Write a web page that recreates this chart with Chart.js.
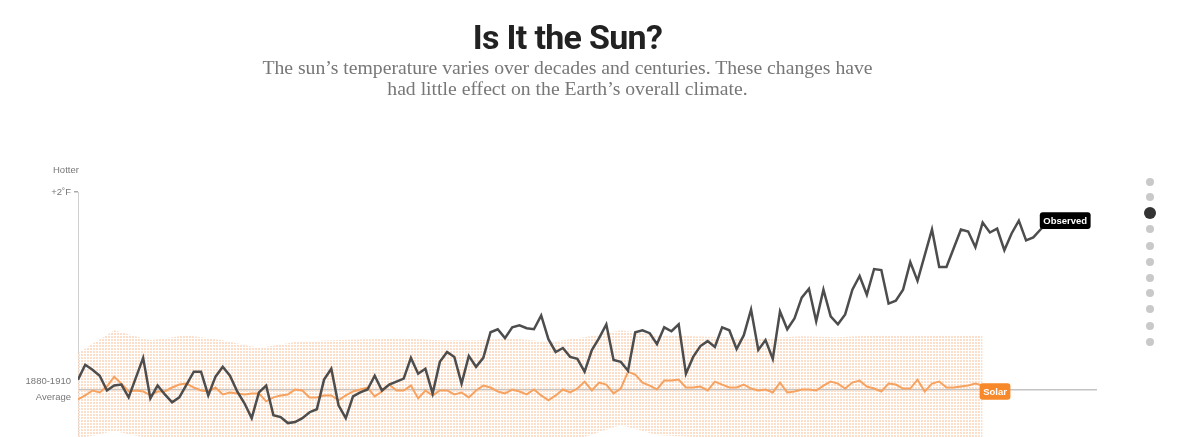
<!DOCTYPE html>
<html lang="en">
<head>
<meta charset="UTF-8">
<title>Is It the Sun?</title>
<script src="https://cdn.jsdelivr.net/npm/chart.js"></script>
<style>
    body{
        margin: 0;
        background: #fff;
        width: 1200px;
        height: 437px;
        overflow: hidden;
        position: relative;
        font-family: 'Liberation Sans', Arial, sans-serif;
    }
    .grafico{
        position: absolute;
        left: 0;
        top: 0;
        width: 1200px;
        height: 437px;
    }
    .titulo{
        position: absolute;
        left: 0;
        width: 1135px;
        top: 17px;
        text-align: center;
        font-family: Roboto, 'Liberation Sans', sans-serif;
        font-weight: 700;
        font-size: 34px;
        line-height: 40px;
        color: #222;
        letter-spacing: -0.7px;
    }
    .subtitulo{
        position: absolute;
        left: 0;
        width: 1135px;
        top: 57px;
        text-align: center;
        font-family: 'Liberation Serif', serif;
        font-size: 19.7px;
        line-height: 21px;
        color: #777;
    }
    .hotter{
        position: absolute;
        left: 53px;
        top: 164px;
        font-size: 9.5px;
        color: #777;
    }
    .ponto{
        position: absolute;
        left: 1146px;
        width: 8px;
        height: 8px;
        border-radius: 50%;
        background: #c9c9c9;
    }
    .ponto.ativo{
        left: 1144px;
        width: 12px;
        height: 12px;
        background: #333;
    }
</style>
</head>
<body>
    <div class="grafico"><canvas id="myChart"></canvas></div>
    <div class="titulo">Is It the Sun?</div>
    <div class="subtitulo">The sun’s temperature varies over decades and centuries. These changes have<br>had little effect on the Earth’s overall climate.</div>
    <div class="hotter">Hotter</div>
    <div id="pontos"></div>

<script>
    // anos e valores (graus F acima da media 1880-1910)
    var anoInicial = 1880;
    var observado = [
        0.10, 0.25, 0.20, 0.14, -0.01, 0.04, 0.05, -0.08, 0.12, 0.32,
        -0.09, 0.04, -0.05, -0.13, -0.08, 0.05, 0.18, 0.18, -0.06, 0.13,
        0.23, 0.14, -0.02, -0.14, -0.29, -0.03, 0.04, -0.26, -0.28, -0.34,
        -0.33, -0.29, -0.23, -0.20, 0.10, 0.21, -0.16, -0.29, -0.07, -0.03,
        0.00, 0.14, -0.01, 0.05, 0.08, 0.11, 0.32, 0.16, 0.21, -0.04,
        0.28, 0.38, 0.33, 0.06, 0.34, 0.23, 0.32, 0.58, 0.61, 0.52,
        0.63, 0.65, 0.62, 0.61, 0.75, 0.51, 0.38, 0.42, 0.33, 0.31,
        0.18, 0.40, 0.52, 0.66, 0.30, 0.28, 0.19, 0.58, 0.60, 0.57,
        0.46, 0.63, 0.59, 0.66, 0.16, 0.33, 0.44, 0.49, 0.43, 0.63,
        0.60, 0.41, 0.55, 0.81, 0.40, 0.50, 0.31, 0.79, 0.61, 0.72,
        0.93, 1.02, 0.69, 1.01, 0.74, 0.66, 0.76, 1.01, 1.15, 0.96,
        1.22, 1.21, 0.87, 0.90, 1.01, 1.29, 1.10, 1.36, 1.62, 1.24,
        1.24, 1.43, 1.62, 1.60, 1.44, 1.69, 1.59, 1.63, 1.41, 1.58,
        1.71, 1.51, 1.54, 1.62, 1.70
    ];
    var solar = [
        -0.10, -0.06, -0.01, -0.03, 0.03, 0.13, 0.06, -0.02, -0.01, -0.02,
        -0.06, -0.02, -0.02, 0.02, 0.05, 0.06, 0.02, -0.01, -0.02, 0.02,
        -0.05, -0.03, -0.04, -0.05, -0.04, -0.04, -0.12, -0.08, -0.06, -0.05,
        0.00, -0.01, -0.08, -0.08, -0.06, -0.06, -0.11, -0.06, -0.02, 0.00,
        0.02, -0.07, -0.02, 0.05, -0.01, -0.01, 0.04, -0.09, -0.01, -0.06,
        -0.01, -0.01, -0.05, -0.03, -0.08, -0.01, 0.04, 0.02, -0.02, -0.04,
        0.00, -0.02, -0.05, 0.00, -0.06, -0.11, -0.06, 0.00, -0.03, 0.01,
        0.08, -0.01, 0.07, 0.05, -0.04, 0.01, 0.18, 0.15, 0.07, 0.04,
        0.00, 0.09, 0.09, 0.10, 0.02, 0.02, 0.03, -0.01, 0.08, 0.05,
        0.02, 0.02, 0.05, 0.01, -0.01, 0.00, -0.03, 0.07, -0.03, -0.02,
        0.00, 0.00, -0.01, 0.04, 0.08, 0.06, 0.01, 0.07, 0.09, 0.03,
        0.01, -0.02, 0.06, 0.05, 0.01, 0.01, 0.10, -0.02, 0.06, 0.08,
        0.02, 0.02, 0.03, 0.04, 0.06, 0.04
    ];
    // faixa de incerteza do solar, a cada 5 anos
    var anosFaixa = [1880, 1885, 1890, 1895, 1900, 1905, 1910, 1915, 1920, 1925, 1930, 1935, 1940,
                     1945, 1950, 1955, 1960, 1965, 1970, 1975, 1980, 1985, 1990, 1995, 2000, 2005];
    var faixaAlta = [0.37, 0.60, 0.50, 0.55, 0.50, 0.42, 0.48, 0.50, 0.51, 0.52, 0.50, 0.50, 0.52,
                     0.48, 0.53, 0.60, 0.55, 0.54, 0.53, 0.52, 0.54, 0.53, 0.55, 0.54, 0.55, 0.55];
    var faixaBaixa = [-0.50, -0.42, -0.50, -0.52, -0.52, -0.55, -0.52, -0.52, -0.50, -0.50, -0.52, -0.52, -0.50,
                      -0.55, -0.48, -0.36, -0.46, -0.48, -0.50, -0.50, -0.48, -0.50, -0.48, -0.48, -0.50, -0.50];
    var rotulosY = {0: ['1880-1910', 'Average'], 2: '+2˚F'};

    function pontos(valores){
        return valores.map(function(v, i){ return {x: anoInicial + i, y: v}; });
    }

    function padraoPontilhado(){
        var c = document.createElement('canvas');
        c.width = 3;
        c.height = 3;
        var g = c.getContext('2d');
        g.fillStyle = '#fcdfcb';
        g.fillRect(0, 0, 2, 2);
        return g.createPattern(c, 'repeat');
    }

    function etiqueta(ctx, texto, x, y, cor){
        ctx.save();
        ctx.font = 'bold 9.5px "Liberation Sans", Arial, sans-serif';
        var w = ctx.measureText(texto).width + 7;
        ctx.fillStyle = cor;
        ctx.beginPath();
        ctx.roundRect(x, y - 8.3, w, 16.6, 3);
        ctx.fill();
        ctx.fillStyle = '#fff';
        ctx.textBaseline = 'middle';
        ctx.fillText(texto, x + 3.5, y + 0.5);
        ctx.restore();
    }

    var pluginEtiquetas = {
        id: 'etiquetas',
        afterDatasetsDraw: function(chart){
            var sx = chart.scales.x, sy = chart.scales.y;
            var ultimoObs = observado.length - 1;
            var ultimoSol = solar.length - 1;
            etiqueta(chart.ctx, 'Observed', sx.getPixelForValue(anoInicial + ultimoObs) - 8,
                     sy.getPixelForValue(observado[ultimoObs]) - 1, '#000');
            etiqueta(chart.ctx, 'Solar', sx.getPixelForValue(anoInicial + ultimoSol) - 3,
                     sy.getPixelForValue(0) + 2, '#f7892b');
        }
    };

    function carregarGrafico(){
        var padrao = padraoPontilhado();
        var data = {
            datasets: [{
                label: 'Observed',
                data: pontos(observado),
                borderColor: '#4d4d4d',
                borderWidth: 2.5,
                pointRadius: 0,
                fill: false
            },
            {
                label: 'Solar',
                data: pontos(solar),
                borderColor: '#f6a260',
                borderWidth: 2,
                pointRadius: 0,
                fill: false
            },
            {
                label: 'faixa alta',
                data: anosFaixa.map(function(a, i){ return {x: a, y: faixaAlta[i]}; }),
                borderWidth: 0,
                borderColor: 'transparent',
                backgroundColor: padrao,
                pointRadius: 0,
                fill: '+1'
            },
            {
                label: 'faixa baixa',
                data: anosFaixa.map(function(a, i){ return {x: a, y: faixaBaixa[i]}; }),
                borderWidth: 0,
                borderColor: 'transparent',
                pointRadius: 0,
                fill: false
            }]
        };
        var config = {
            type: 'line',
            data: data,
            options: {
                responsive: true,
                maintainAspectRatio: false,
                animation: false,
                layout: {
                    padding: {left: 0, right: 103, top: 192, bottom: 0}
                },
                plugins: {
                    legend: {display: false},
                    title: {display: false},
                    tooltip: {enabled: false}
                },
                scales: {
                    x: {
                        type: 'linear',
                        min: 1880,
                        max: 2020.8,
                        display: false
                    },
                    y: {
                        min: -0.481,
                        max: 2,
                        afterFit: function(scale){
                            scale.width = 78;
                            scale.paddingTop = 0;
                            scale.paddingBottom = 0;
                        },
                        afterBuildTicks: function(scale){ scale.ticks = [{value: 0}, {value: 2}]; },
                        border: {display: true, color: '#cfcfcf', width: 1},
                        grid: {
                            drawOnChartArea: true,
                            color: function(c){ return c.tick && c.tick.value === 0 ? '#c4c4c4' : 'transparent'; },
                            tickColor: function(c){ return c.tick && c.tick.value === 2 ? '#aaa' : 'transparent'; },
                            tickLength: 4,
                            lineWidth: 1.5
                        },
                        ticks: {
                            padding: 3,
                            color: '#777',
                            font: {family: '"Liberation Sans", Arial, sans-serif', size: 9.5, lineHeight: 1.68},
                            callback: function(v){ return rotulosY[v]; }
                        }
                    }
                }
            },
            plugins: [pluginEtiquetas]
        };
        new Chart(document.getElementById('myChart'), config);
    }

    // marcadores de navegacao da direita
    var topoPontos = [182, 197, 213, 229, 246, 262, 278, 293, 309, 326, 342];
    var pontoAtivo = 2;
    function desenharPontos(){
        var html = '';
        for (var i = 0; i < topoPontos.length; i++) {
            var r = i === pontoAtivo ? 6 : 4;
            html += '<div class="ponto' + (i === pontoAtivo ? ' ativo' : '') + '" style="top:' + (topoPontos[i] - r) + 'px"></div>';
        }
        document.getElementById('pontos').innerHTML = html;
    }

    desenharPontos();
    carregarGrafico();
</script>
</body>
</html>
